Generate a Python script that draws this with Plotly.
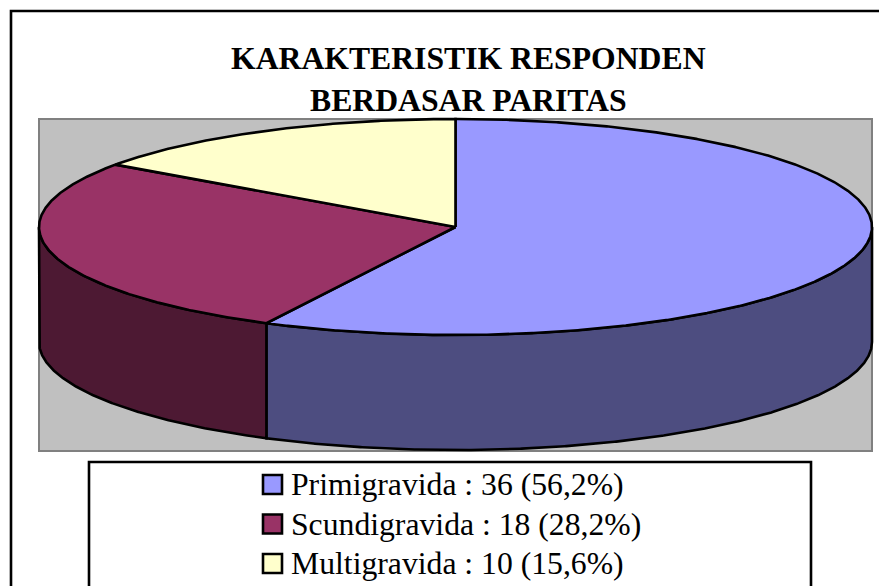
import numpy as np
import plotly.graph_objects as go

# Labels and figures printed in the legend
categories = ["Primigravida", "Scundigravida", "Multigravida"]
counts = [36, 18, 10]
percent_labels = ["56,2%", "28,2%", "15,6%"]
# Angular share of each slice as measured on the drawn (projected) pie
drawn_share = [57.5, 27.3, 15.2]
title_lines = ["KARAKTERISTIK RESPONDEN", "BERDASAR PARITAS"]

top_colors = ["#9999FF", "#993366", "#FFFFCC"]
side_colors = ["#4D4D80", "#4D1933", "#808066"]

W, H = 879, 586
CX, CY, RX, RY, DEPTH = 455.5, 227, 416.5, 108, 115
FONT = "Liberation Serif"
LW = 2.6


def arc(a, b, dy=0.0):
    t = np.radians(np.linspace(a, b, max(int(abs(b - a) * 4), 2)))
    return CX + RX * np.sin(t), CY + dy - RY * np.cos(t)


fig = go.Figure()
edges = np.concatenate([[0], np.cumsum(drawn_share)]) / np.sum(drawn_share) * 360

# Outer walls: only the part of a slice on the front half (90-270 deg) shows
for i in range(len(counts)):
    a, b = max(edges[i], 90), min(edges[i + 1], 270)
    if b <= a:
        continue
    x1, y1 = arc(a, b)
    x2, y2 = arc(b, a, DEPTH)
    fig.add_trace(go.Scatter(
        x=np.r_[x1, x2, x1[0]], y=np.r_[y1, y2, y1[0]], mode="lines",
        fill="toself", fillcolor=side_colors[i],
        line=dict(color="black", width=LW), hoverinfo="skip", showlegend=False))

# Top faces
for i in range(len(counts)):
    x, y = arc(edges[i], edges[i + 1])
    fig.add_trace(go.Scatter(
        x=np.r_[CX, x, CX], y=np.r_[CY, y, CY], mode="lines",
        fill="toself", fillcolor=top_colors[i],
        line=dict(color="black", width=LW), name=categories[i],
        hoverinfo="name", showlegend=False))

# Legend rows
rows_y = [484.5, 524, 563.5]
fig.add_trace(go.Scatter(
    x=[272.5] * 3, y=rows_y, mode="markers",
    marker=dict(symbol="square", size=19, color=top_colors,
                line=dict(color="black", width=2.6)),
    hoverinfo="skip", showlegend=False))

annotations = []
for i, c in enumerate(categories):
    annotations.append(dict(
        x=289, y=rows_y[i], xref="x", yref="y", xanchor="left", yanchor="middle",
        showarrow=False, text=f"{c} : {counts[i]} ({percent_labels[i]})",
        font=dict(family=FONT, size=31.7, color="black")))
for line, y in zip(title_lines, [58, 100]):
    annotations.append(dict(
        x=468.5, y=y, xref="x", yref="y", xanchor="center", yanchor="middle",
        showarrow=False, text=f"<b>{line}</b>",
        font=dict(family=FONT, size=31.7, color="black")))

shapes = [
    # chart frame, running off the right and bottom of the image
    dict(type="rect", x0=11, y0=11, x1=W + 20, y1=H + 20, layer="below",
         line=dict(color="black", width=2.6), fillcolor="white"),
    # plot area
    dict(type="rect", x0=39, y0=119, x1=872, y1=451, layer="below",
         line=dict(color="#808080", width=2), fillcolor="#C0C0C0"),
    # legend box
    dict(type="rect", x0=89, y0=462, x1=811, y1=H + 20, layer="below",
         line=dict(color="black", width=2.6), fillcolor="white"),
]

fig.update_layout(
    width=W, height=H, margin=dict(l=0, r=0, t=0, b=0),
    paper_bgcolor="white", plot_bgcolor="white",
    xaxis=dict(range=[0, W], visible=False, fixedrange=True),
    yaxis=dict(range=[H, 0], visible=False, fixedrange=True),
    shapes=shapes, annotations=annotations,
)

fig.write_html("out.html", config={"displayModeBar": False},
               post_script="document.body.style.margin='0';document.documentElement.style.overflow='hidden';")
